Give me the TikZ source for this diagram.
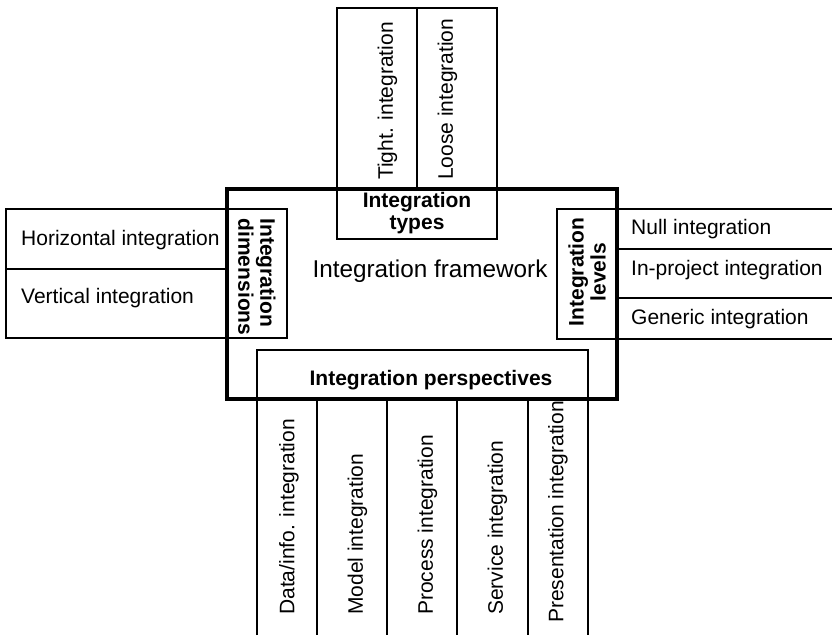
\documentclass[tikz,border=0pt]{standalone}
\usepackage{fontspec}
\setmainfont{Liberation Sans}
\begin{document}
\begin{tikzpicture}[x=1pt,y=-1pt,
  cell/.style={draw=black,line width=1.6pt},
  frameline/.style={draw=black,line width=3.2pt},
  lbl/.style={inner sep=0pt,font=\fontsize{21}{24}\selectfont},
  head/.style={inner sep=0pt,font=\fontsize{21}{22}\selectfont\bfseries},
  big/.style={inner sep=0pt,font=\fontsize{24.3}{28}\selectfont},
]
\useasboundingbox (0,0) rectangle (832,635);

% integration types (top)
\draw[cell] (337,8) rectangle (497,239);
\draw[cell] (417,8) -- (417,189);

% integration dimensions (left)
\draw[cell] (6,209) rectangle (287,338);
\draw[cell] (6,269) -- (227,269);

% integration levels (right)
\draw[cell] (832,209) -- (557,209) -- (557,339) -- (832,339);
\draw[cell] (617,249) -- (832,249);
\draw[cell] (617,298) -- (832,298);

% integration perspectives (bottom)
\draw[cell] (257,635) -- (257,350) -- (588,350) -- (588,635);
\foreach \x in {317,387,457,528}
  \draw[cell] (\x,399) -- (\x,635);

% framework outline
\draw[frameline] (227,189) rectangle (617,399);

% texts
\node[big] (fw) at (430,271) {Integration framework};

\node[head,align=center] (types) at (417,213) {Integration\\types};
\node[lbl,rotate=90,anchor=west] (tight) at (387.5,180) {Tight. integration};
\node[lbl,rotate=90,anchor=west] (loose) at (447.5,180) {Loose integration};

\node[head,align=left,rotate=-90] (dims) at (257,277) {Integration\\dimensions};
\node[lbl,anchor=west] (horiz) at (21,240) {Horizontal integration};
\node[lbl,anchor=west] (vert) at (21,298) {Vertical integration};

\node[head,align=center,rotate=90] (levels) at (587,272) {Integration\\levels};
\node[lbl,anchor=west] (null) at (631,229) {Null integration};
\node[lbl,anchor=west] (inproj) at (631,270) {In-project integration};
\node[lbl,anchor=west] (generic) at (631,319) {Generic integration};

\node[head] (persp) at (431,380) {Integration perspectives};
\node[lbl,rotate=90,anchor=west] (data) at (289,615) {Data/info. integration};
\node[lbl,rotate=90,anchor=west] (model) at (357.5,615) {Model integration};
\node[lbl,rotate=90,anchor=west] (process) at (427.5,615) {Process integration};
\node[lbl,rotate=90,anchor=west] (service) at (497.5,615) {Service integration};
\node[lbl,rotate=90,anchor=west] (present) at (558,623) {Presentation integration};
\end{tikzpicture}
\end{document}
